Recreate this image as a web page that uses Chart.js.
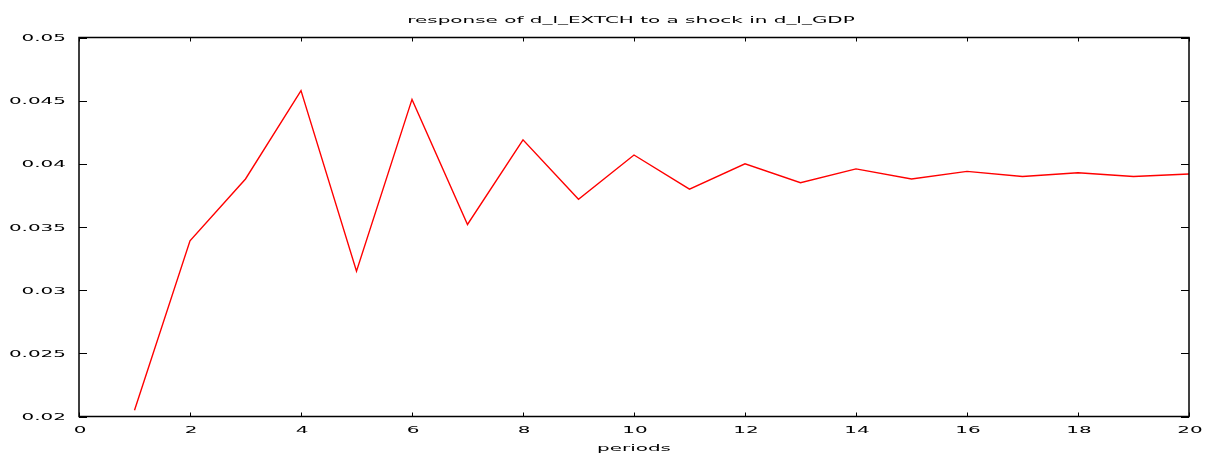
<!DOCTYPE html>
<html>
<head>
<meta charset="utf-8">
<script src="https://cdn.jsdelivr.net/npm/chart.js@4/dist/chart.umd.min.js"></script>
<style>
  html, body { margin: 0; padding: 0; background: #fff; }
  #wrap { width: 1205px; height: 455px; }
</style>
</head>
<body>
<div id="wrap"><canvas id="c" width="1205" height="455"></canvas></div>
<script>
const chartTitle = "response of d_l_EXTCH to a shock in d_l_GDP";
const xAxisTitle = "periods";
const periods = [1,2,3,4,5,6,7,8,9,10,11,12,13,14,15,16,17,18,19,20];
const responses = [0.0205,0.0339,0.0388,0.0458,0.0315,0.0451,0.0352,0.0419,0.0372,0.0407,
                   0.0380,0.0400,0.0385,0.0396,0.0388,0.0394,0.0390,0.0393,0.0390,0.0392];
const xTicks = [0,2,4,6,8,10,12,14,16,18,20];
const xTickLabels = ["0","2","4","6","8","10","12","14","16","18","20"];
const yTicks = [0.02,0.025,0.03,0.035,0.04,0.045,0.05];
const yTickLabels = ["0.02","0.025","0.03","0.035","0.04","0.045","0.05"];

const FONT_CSS = "9.5px 'DejaVu Sans', sans-serif";
const STRETCH = 2.1;

// draw horizontally stretched text (gnuplot look)
function stretchedText(ctx, text, x, y, align) {
  ctx.save();
  ctx.font = FONT_CSS;
  ctx.textBaseline = 'alphabetic';
  const w = ctx.measureText(text).width * STRETCH;
  let x0 = x;
  if (align === 'center') x0 = x - w / 2;
  else if (align === 'right') x0 = x - w;
  ctx.translate(x0, y);
  ctx.scale(STRETCH, 1);
  ctx.textAlign = 'left';
  ctx.fillStyle = '#000';
  ctx.fillText(text, 0, 0);
  ctx.restore();
}

const frameTicks = {
  id: 'frameTicks',
  afterDatasetsDraw(chart) {
    const { ctx, chartArea: a, scales } = chart;
    ctx.save();
    ctx.strokeStyle = '#000';
    ctx.lineWidth = 1;
    xTicks.forEach(v => {
      const px = Math.round(scales.x.getPixelForValue(v)) + 0.5;
      ctx.beginPath();
      ctx.moveTo(px, a.bottom); ctx.lineTo(px, a.bottom - 4);
      ctx.moveTo(px, a.top); ctx.lineTo(px, a.top + 4);
      ctx.stroke();
    });
    yTicks.forEach(v => {
      const py = Math.round(scales.y.getPixelForValue(v)) + 0.5;
      ctx.beginPath();
      ctx.moveTo(a.left, py); ctx.lineTo(a.left + 8, py);
      ctx.moveTo(a.right, py); ctx.lineTo(a.right - 8, py);
      ctx.stroke();
    });
    ctx.lineWidth = 1.5;
    ctx.strokeRect(a.left, a.top, a.right - a.left, a.bottom - a.top);
    ctx.restore();

    // texts
    xTicks.forEach((v, i) => {
      stretchedText(ctx, xTickLabels[i], scales.x.getPixelForValue(v) + 1, a.bottom + 16.5, 'center');
    });
    yTicks.forEach((v, i) => {
      stretchedText(ctx, yTickLabels[i], a.left - 13, scales.y.getPixelForValue(v) + 3.5, 'right');
    });
    const cx = (a.left + a.right) / 2;
    stretchedText(ctx, chartTitle, cx - 3, 23, 'center');
    stretchedText(ctx, xAxisTitle, cx, 451, 'center');
  }
};

new Chart(document.getElementById('c'), {
  type: 'line',
  data: {
    datasets: [{
      data: periods.map((p, i) => ({ x: p, y: responses[i] })),
      borderColor: '#ff0000',
      borderWidth: 1.4,
      pointRadius: 0,
      tension: 0,
      fill: false
    }]
  },
  options: {
    responsive: false,
    animation: false,
    devicePixelRatio: 1,
    layout: { padding: { left: 0, right: 16, top: 37.5, bottom: 0 } },
    plugins: {
      legend: { display: false },
      tooltip: { enabled: false },
      title: { display: false, text: chartTitle }
    },
    scales: {
      x: {
        type: 'linear',
        min: 0, max: 20,
        afterBuildTicks(scale) { scale.ticks = xTicks.map(v => ({ value: v })); },
        afterFit(scale) { scale.height = 38.5; },
        ticks: { display: false },
        grid: { display: false, drawTicks: false },
        border: { display: false },
        title: { display: false, text: xAxisTitle }
      },
      y: {
        type: 'linear',
        min: 0.02, max: 0.05,
        afterBuildTicks(scale) { scale.ticks = yTicks.map(v => ({ value: v })); },
        afterFit(scale) { scale.width = 79; },
        ticks: { display: false },
        grid: { display: false, drawTicks: false },
        border: { display: false }
      }
    }
  },
  plugins: [frameTicks]
});
</script>
</body>
</html>
